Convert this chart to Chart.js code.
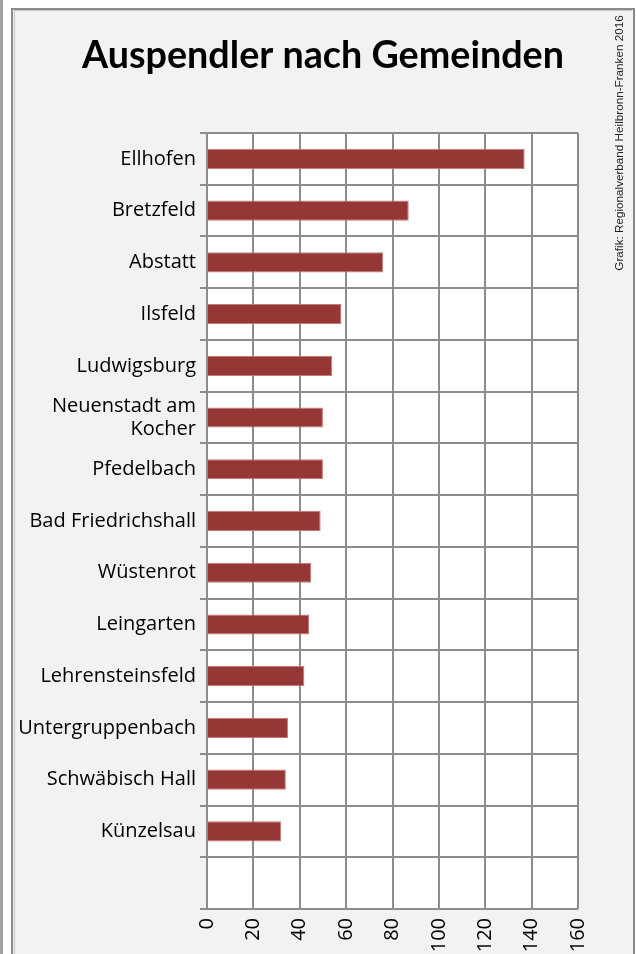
<!DOCTYPE html>
<html>
<head>
<meta charset="utf-8">
<script src="https://cdn.jsdelivr.net/npm/chart.js@4"></script>
<style>
html,body{margin:0;padding:0;background:#fff;}
#wrap{position:relative;width:636px;height:954px;}
</style>
</head>
<body>
<div id="wrap"><canvas id="c" width="636" height="954"></canvas></div>
<script>
const categories = ['Ellhofen','Bretzfeld','Abstatt','Ilsfeld','Ludwigsburg',['Neuenstadt am','Kocher'],'Pfedelbach','Bad Friedrichshall','Wüstenrot','Leingarten','Lehrensteinsfeld','Untergruppenbach','Schwäbisch Hall','Künzelsau',''];
const auspendler = [137,87,76,58,54,50,50,49,45,44,42,35,34,32,null];
const xTicks = [0,20,40,60,80,100,120,140,160];
const titleText = 'Auspendler nach Gemeinden';
const sourceText = 'Grafik: Regionalverband Heilbronn-Franken 2016';

const frame = {
  id:'frame',
  beforeDraw(chart){
    const ctx = chart.ctx;
    ctx.save();
    ctx.fillStyle='#ffffff';
    ctx.fillRect(0,0,636,954);
    ctx.fillStyle='#a0a0a0';
    ctx.fillRect(0,0,3,954);
    ctx.fillStyle='#f2f2f2';
    ctx.fillRect(12,8,622,946);
    ctx.strokeStyle='#8a8a8a';
    ctx.lineWidth=2;
    ctx.beginPath();
    ctx.moveTo(12,954);ctx.lineTo(12,9);ctx.lineTo(634,9);ctx.lineTo(634,954);
    ctx.stroke();
    ctx.strokeStyle='#c8c8c8';
    ctx.lineWidth=1;
    ctx.beginPath();
    ctx.moveTo(14.5,954);ctx.lineTo(14.5,10.5);ctx.lineTo(632,10.5);
    ctx.stroke();
    const a = chart.chartArea;
    ctx.fillStyle='#ffffff';
    ctx.fillRect(a.left,a.top,a.right-a.left,a.bottom-a.top);
    ctx.restore();
  },
  afterDraw(chart){
    const ctx = chart.ctx;
    ctx.save();
    ctx.fillStyle='#000';
    ctx.font='bold 37.7px Lato';
    ctx.textAlign='center';
    ctx.textBaseline='middle';
    ctx.fillText(titleText,323,56);
    ctx.translate(620,143);
    ctx.rotate(-Math.PI/2);
    ctx.font='11.7px "Liberation Sans", Arial';
    ctx.fillStyle='#222';
    ctx.fillText(sourceText,0,0);
    ctx.restore();
  }
};

new Chart(document.getElementById('c'),{
  type:'bar',
  data:{
    labels:categories,
    datasets:[{
      data:auspendler,
      backgroundColor:'#953735',
      borderColor:'#c47a78',
      borderWidth:1,
      barPercentage:0.39,
      categoryPercentage:1
    }]
  },
  options:{
    indexAxis:'y',
    responsive:false,
    animation:false,
    devicePixelRatio:1,
    layout:{padding:{top:133,right:58,bottom:0,left:0}},
    plugins:{legend:{display:false},tooltip:{enabled:false},title:{display:false}},
    scales:{
      x:{
        min:0,max:160,
        afterFit(s){s.height=45;},
        afterBuildTicks(s){s.ticks = xTicks.map(v=>({value:v}));},
        ticks:{minRotation:90,maxRotation:90,padding:9,color:'#000',font:{family:'Open Sans',size:20}},
        grid:{color:'#8c8c8c',lineWidth:2,drawTicks:false},
        border:{display:false}
      },
      y:{
        afterFit(s){s.width=207;},
        ticks:{color:'#000',padding:4,font:{family:'Open Sans',size:20,lineHeight:1.17}},
        grid:{offset:true,color:'#8c8c8c',lineWidth:2,tickLength:7},
        border:{color:'#8c8c8c',width:2}
      }
    }
  },
  plugins:[frame]
});
</script>
</body>
</html>
